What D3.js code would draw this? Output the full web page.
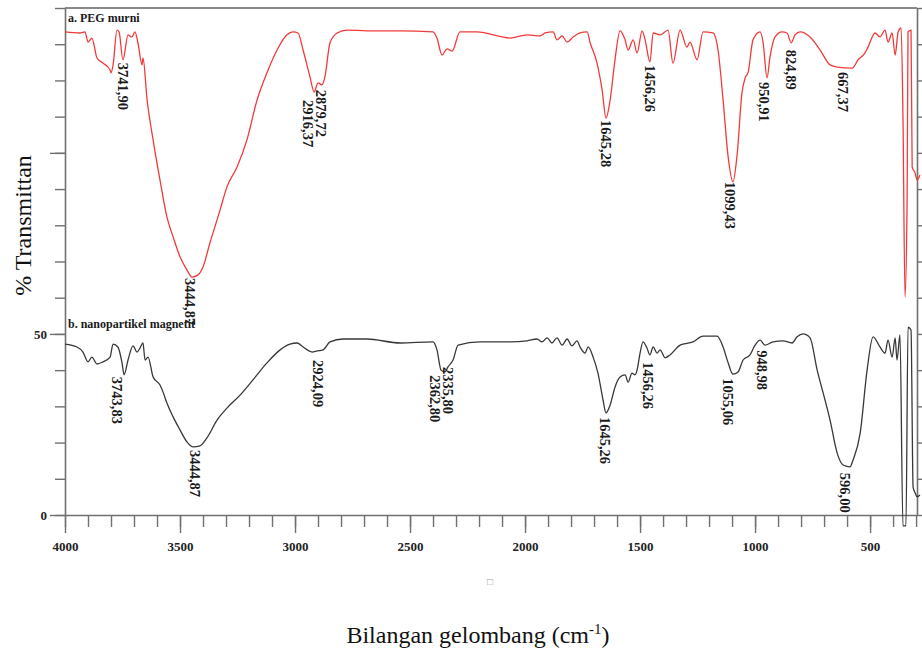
<!DOCTYPE html>
<html><head><meta charset="utf-8">
<script src="https://cdn.jsdelivr.net/npm/d3@7"></script>
<style>
html,body{margin:0;padding:0;background:#fff;}
svg{display:block;}
text{font-family:"Liberation Serif","Times New Roman",serif;}
</style></head><body>
<svg id="chart" width="922" height="652"></svg>
<script>
// ---------------- DATA ----------------
// a. PEG murni (wavenumber cm-1, % transmittance)
const pegWave = [4000,3935,3913,3900,3883,3861,3835,3804,3800,3791,
  3774,3765,3748,3726,3709,3696,3683,3665,3661,3643,
  3617,3587,3557,3530,3500,3470,3448,3422,3400,3370,
  3326,3296,3252,3209,3165,3122,3078,3035,3009,2987,
  2965,2935,2917,2900,2883,2870,2848,2817,2774,2687,
  2543,2400,2383,2361,2339,2317,2283,2209,2065,1991,
  1935,1913,1878,1861,1839,1817,1791,1761,1730,1717,
  1687,1665,1648,1630,1609,1587,1565,1552,1530,1513,
  1491,1478,1457,1443,1413,1378,1357,1326,1296,1283,
  1252,1226,1183,1161,1139,1117,1096,1078,1057,1043,
  1030,1009,978,965,948,935,913,883,861,843,
  826,804,761,717,674,643,578,552,522,509,
  478,457,435,422,404,391,378,365,357,348,
  339,335,322,317,304,296,283];
const pegT = [133.4,133.1,133.4,130.6,131.7,126.2,124.8,122.9,122.1,124.3,
  133.9,133.4,125.7,132.6,132.0,133.4,130.4,124.3,126.2,114.6,
  103.6,92.5,82.3,76.8,71.3,67.7,65.7,66.3,68.5,75.1,
  84.2,90.6,96.1,103.6,114.6,122.1,128.4,132.6,133.4,133.1,
  128.4,121.0,116.8,119.3,118.8,121.0,130.4,133.1,133.9,133.7,
  133.7,133.4,131.7,127.0,128.7,128.1,133.4,133.4,131.7,132.6,
  132.3,133.1,133.4,131.2,132.3,130.6,132.0,133.1,133.4,130.4,
  124.8,117.4,109.6,114.6,125.7,133.7,131.2,128.4,131.2,127.6,
  133.7,131.2,125.1,133.1,132.6,133.9,124.8,133.9,129.2,130.6,
  125.7,133.4,133.1,128.4,114.6,98.9,92.0,99.5,116.5,120.7,
  122.3,131.2,133.4,130.4,120.7,126.5,132.0,133.4,133.1,130.4,
  132.6,133.4,132.0,128.4,124.3,123.7,123.4,125.7,127.6,129.2,
  133.1,132.0,133.9,130.6,133.1,127.0,133.4,134.5,109.9,60.2,
  87.0,133.4,133.9,96.1,94.4,92.5,93.9];

// b. nanopartikel magnetit
const magWave = [4000,3948,3922,3900,3883,3861,3835,3804,3791,3770,
  3752,3743,3726,3704,3687,3674,3661,3652,3639,3617,
  3587,3574,3557,3530,3500,3470,3443,3413,3383,3339,
  3296,3239,3183,3122,3065,3022,2991,2965,2926,2904,
  2878,2848,2791,2687,2543,2400,2383,2365,2348,2335,
  2313,2291,2196,2065,1991,1948,1926,1904,1883,1861,
  1839,1817,1796,1774,1761,1739,1726,1704,1683,1661,
  1648,1630,1609,1587,1565,1552,1535,1522,1513,1500,
  1487,1470,1457,1443,1426,1413,1391,1370,1326,1270,
  1226,1165,1139,1117,1096,1074,1052,1022,1000,978,
  957,922,878,839,817,791,761,730,704,674,
  643,617,587,574,543,513,487,457,435,422,
  404,391,383,370,357,344,335,322,313,304,
  296,283];
const magT = [47.2,46.4,45.0,42.3,43.6,41.7,42.3,43.6,47.2,46.4,
  42.0,38.7,42.8,46.7,45.0,46.1,47.5,42.8,43.6,38.1,
  35.9,34.0,30.9,27.1,23.5,20.2,18.8,19.1,21.3,26.2,
  29.5,33.1,37.3,42.0,45.6,47.2,47.5,46.4,45.0,45.3,
  45.6,47.8,48.6,48.6,47.5,47.8,45.6,40.0,39.5,40.9,
  42.8,46.9,47.8,47.8,48.1,48.6,47.8,48.9,47.5,48.9,
  46.9,48.6,46.7,48.1,46.4,44.7,46.4,43.6,39.2,31.8,
  28.2,30.4,35.3,38.1,38.7,36.7,39.2,38.7,40.0,44.7,
  47.8,46.1,44.2,46.4,44.7,45.6,43.4,44.2,46.9,47.8,
  49.4,49.4,46.4,42.0,38.9,39.5,42.8,44.2,46.9,48.3,
  46.9,47.8,48.1,47.5,49.2,50.0,48.9,40.0,33.7,26.2,
  17.1,13.8,13.3,15.2,22.6,40.0,49.2,46.4,44.7,48.3,
  43.6,48.9,42.8,49.7,-3,-3,51.9,51.1,7.7,6.1,
  5.0,5.5];

// peak annotations
const pegPeakLabels = ["3741,90","3444,87","2916,37","2879,72","1645,28","1456,26","1099,43","950,91","824,89","667,37"];
const pegPeakWave = [3741.90,3444.87,2916.37,2879.72,1645.28,1456.26,1099.43,950.91,824.89,667.37];
const pegPeakT = [125.7,65.7,116.8,118.8,109.6,125.1,92.0,120.7,130.4,123.7];

const magPeakLabels = ["3743,83","3444,87","2924,09","2362,80","2335,80","1645,26","1456,26","1055,06","948,98","596,00"];
const magPeakWave = [3743.83,3444.87,2924.09,2362.80,2335.80,1645.26,1456.26,1055.06,948.98,596.00];
const magPeakT = [38.7,18.8,45.0,40.0,40.9,28.2,44.2,38.9,46.9,13.3];

// ticks
const xMajorTicks = [4000,3500,3000,2500,2000,1500,1000,500];
const xMinorTicks = d3.range(300, 4001, 100);
const yLabelTicks = [0,50];
const yMajorTicks = [0,50,100];
const yMinorTicks = d3.range(0, 141, 10);

const seriesNames = ["a. PEG murni","b. nanopartikel magnetit"];
const xTitle = "Bilangan gelombang (cm";
const xTitleSup = "-1";
const yTitle = "% Transmittan";

// ---------------- LAYOUT ----------------
const L = 65, R = 917, T = 8, B = 515;
const svg = d3.select("#chart");
const x = d3.scaleLinear().domain([4000, 296]).range([L, R]);
const y = d3.scaleLinear().domain([0, 140]).range([B, T]);

const axisColor = "#707070";
function styleAxis(g){
  g.selectAll("path.domain").attr("stroke", axisColor).attr("stroke-width", 1.6);
  g.selectAll(".tick line").attr("stroke", axisColor).attr("stroke-width", 1.4);
  g.selectAll(".tick text").attr("fill", "#222").attr("font-weight", "bold")
    .attr("font-family", '"Liberation Serif","Times New Roman",serif');
}

// top border
svg.append("line").attr("x1", x(4000)).attr("x2", x(296)).attr("y1", y(140)).attr("y2", y(140))
  .attr("stroke", "#8a8a8a").attr("stroke-width", 2);

// right axis
svg.append("g").attr("transform", `translate(${R},0)`)
  .call(d3.axisRight(y).tickValues(yMinorTicks).tickSize(8).tickSizeOuter(0).tickFormat(""))
  .call(styleAxis);

// left axis minor
svg.append("g").attr("transform", `translate(${L},0)`)
  .call(d3.axisLeft(y).tickValues(yMinorTicks).tickSize(10).tickSizeOuter(0).tickFormat(""))
  .call(styleAxis);
// left axis major
svg.append("g").attr("transform", `translate(${L},0)`)
  .call(d3.axisLeft(y).tickValues(yMajorTicks).tickSize(15).tickSizeOuter(0).tickPadding(3)
     .tickFormat(d => yLabelTicks.includes(d) ? d : ""))
  .call(styleAxis)
  .call(g => g.select("path.domain").remove())
  .call(g => g.selectAll(".tick text").attr("font-size", 13));

// bottom axis minor
svg.append("g").attr("transform", `translate(0,${B})`)
  .call(d3.axisBottom(x).tickValues(xMinorTicks).tickSize(12).tickSizeOuter(0).tickFormat(""))
  .call(styleAxis);
// bottom axis major
svg.append("g").attr("transform", `translate(0,${B})`)
  .call(d3.axisBottom(x).tickValues(xMajorTicks).tickSize(18).tickSizeOuter(0).tickPadding(9).tickFormat(d => d))
  .call(styleAxis)
  .call(g => g.select("path.domain").remove())
  .call(g => g.selectAll(".tick text").attr("font-size", 13));

// spectra
const line = d3.line().x(d => x(d[0])).y(d => y(d[1])).curve(d3.curveMonotoneX);
svg.append("path").datum(d3.zip(pegWave, pegT))
  .attr("d", line).attr("fill", "none").attr("stroke", "#f23a3a").attr("stroke-width", 1.3)
  .attr("stroke-linejoin", "round");
svg.append("path").datum(d3.zip(magWave, magT))
  .attr("d", line).attr("fill", "none").attr("stroke", "#383838").attr("stroke-width", 1.3)
  .attr("stroke-linejoin", "round");

// series labels
svg.append("text").attr("x", L + 3).attr("y", 22).attr("font-size", 12).attr("font-weight", "bold")
  .attr("fill", "#1a1a1a").text(seriesNames[0]);
svg.append("text").attr("x", L + 3).attr("y", 328).attr("font-size", 12).attr("font-weight", "bold")
  .attr("fill", "#1a1a1a").text(seriesNames[1]);

// peak labels (layout nudges in px)
const pegNudge = [[-1,3],[-3,1],[-6,8],[-2,5],[-1,2],[0,3],[-2,0],[-2,4],[-4,7],[11,5]];
const magNudge = [[-7,2],[2,3],[5,8],[-7,5],[0,0],[-2,4],[-2,7],[-14,4],[-5,5],[-3,6]];
function peakLabels(labels, waves, ts, nudge){
  svg.append("g").selectAll("text").data(labels).join("text")
    .attr("transform", (d,i) => `translate(${x(waves[i]) + nudge[i][0]},${y(ts[i]) + nudge[i][1]}) rotate(90)`)
    .attr("dy", "0.34em")
    .attr("font-size", 14.5).attr("font-weight", "bold").attr("fill", "#1a1a1a")
    .text(d => d);
}
peakLabels(pegPeakLabels, pegPeakWave, pegPeakT, pegNudge);
peakLabels(magPeakLabels, magPeakWave, magPeakT, magNudge);

// axis titles
svg.append("text").attr("transform", `translate(31,${(T + B) / 2 - 36}) rotate(-90)`)
  .attr("text-anchor", "middle").attr("font-size", 24).attr("fill", "#111").text(yTitle);
const xt = svg.append("text").attr("x", 478).attr("y", 643).attr("text-anchor", "middle")
  .attr("font-size", 24).attr("fill", "#111");
xt.append("tspan").text(xTitle);
xt.append("tspan").attr("dy", -9).attr("font-size", 15).text(xTitleSup);
xt.append("tspan").attr("dy", 9).text(")");

// stray glyph below axis
svg.append("text").attr("x", 490).attr("y", 585).attr("text-anchor", "middle")
  .attr("font-size", 10).attr("fill", "#999").text("□");
</script>
</body></html>
